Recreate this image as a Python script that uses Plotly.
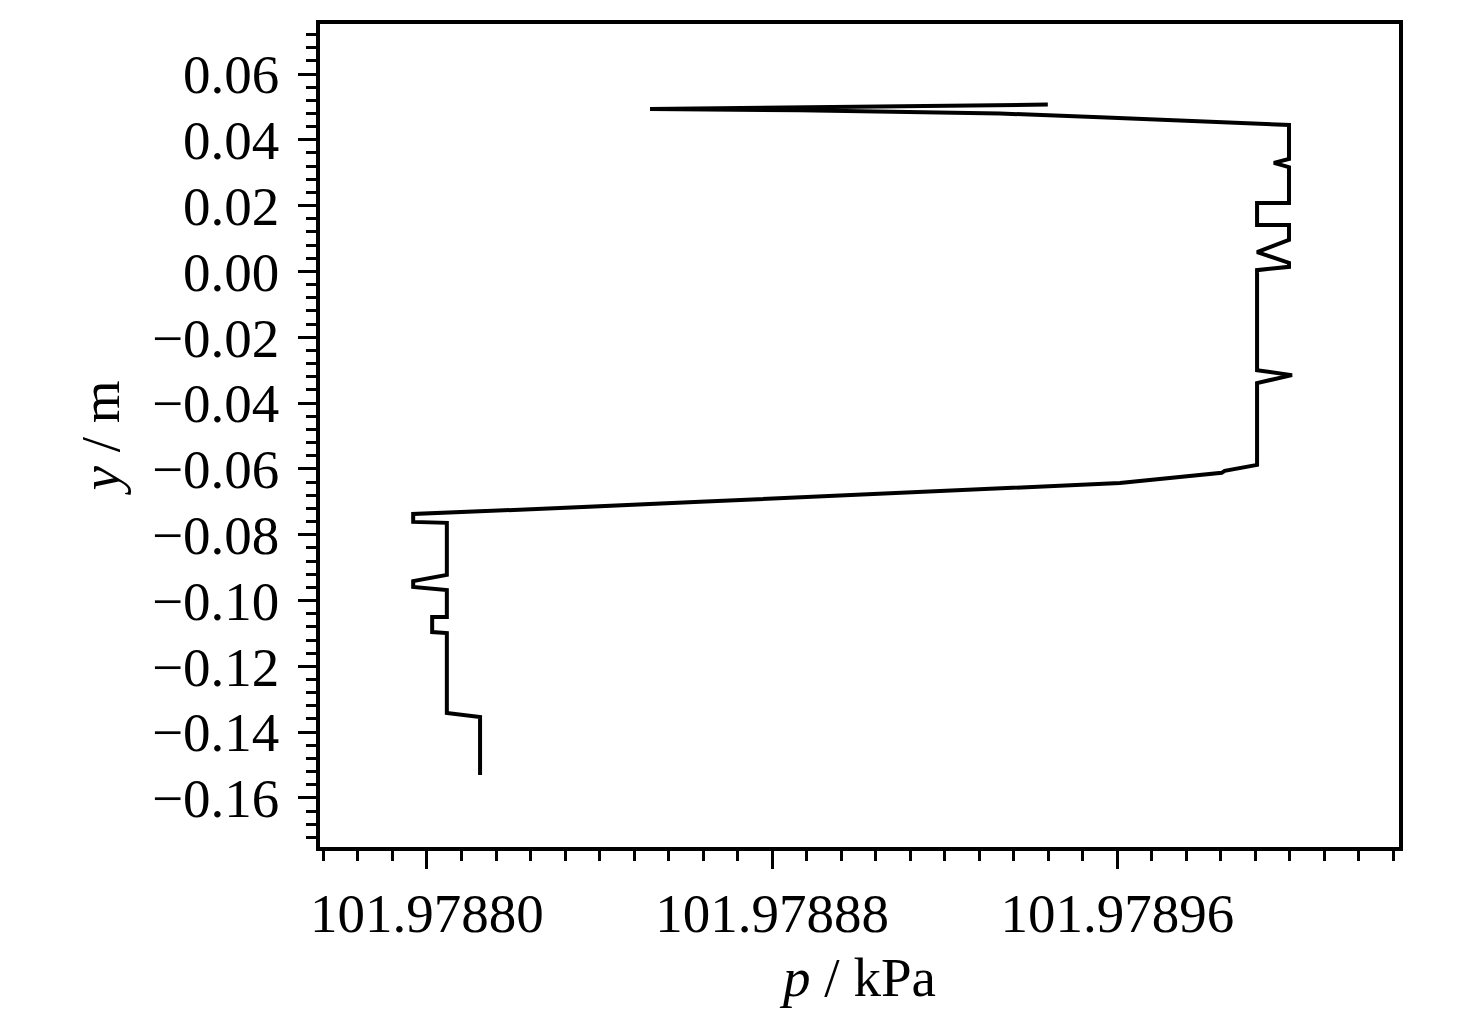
import numpy as np
import plotly.graph_objects as go

# pressure p (kPa) and height y (m), in path order
p_kpa = [101.9789439, 101.9788864, 101.9788517, 101.9788864, 101.9789096, 101.9789328,
         101.9789560, 101.9789791, 101.9789998, 101.9789998, 101.9789963, 101.9789998,
         101.9789998, 101.9789924, 101.9789924, 101.9789998, 101.9789998, 101.9789924,
         101.9789998, 101.9789998, 101.9789924, 101.9789924, 101.9790005, 101.9789924,
         101.9789924, 101.9789849, 101.9789842, 101.9789606, 101.9789282, 101.9788957,
         101.9788633, 101.9788308, 101.9787968, 101.9787968, 101.9788046, 101.9788046,
         101.9787968, 101.9787968, 101.9788046, 101.9788046, 101.9788012, 101.9788012,
         101.9788046, 101.9788046, 101.9788123, 101.9788123]
y_m = [0.0507, 0.0498, 0.0494, 0.0490, 0.0486, 0.0480,
       0.0469, 0.0457, 0.0445, 0.0342, 0.0330, 0.0317,
       0.0208, 0.0208, 0.0141, 0.0141, 0.0096, 0.0059,
       0.0026, 0.0014, 0.0004, -0.0300, -0.0315, -0.0339,
       -0.0588, -0.0606, -0.0612, -0.0643, -0.0661, -0.0679,
       -0.0700, -0.0719, -0.0737, -0.0761, -0.0764, -0.0922,
       -0.0941, -0.0959, -0.0968, -0.1050, -0.1050, -0.1096,
       -0.1099, -0.1342, -0.1354, -0.1530]

x_tick_vals = [101.97880, 101.97884, 101.97888, 101.97892, 101.97896, 101.97900]
x_tick_text = ["101.97880", "", "101.97888", "", "101.97896", ""]
y_tick_vals = [0.06, 0.04, 0.02, 0.00, -0.02, -0.04, -0.06, -0.08, -0.10, -0.12, -0.14, -0.16]
y_tick_text = ["0.06", "0.04", "0.02", "0.00", "\u22120.02", "\u22120.04", "\u22120.06",
               "\u22120.08", "\u22120.10", "\u22120.12", "\u22120.14", "\u22120.16"]

x_minor = [round(101.97880 + k * 8e-6, 7) for k in range(-3, 29)]
y_minor = [round(-0.172 + k * 0.004, 3) for k in range(0, 62)]

FONT = "Liberation Serif"

fig = go.Figure()
fig.add_trace(go.Scatter(x=p_kpa, y=y_m, mode="lines",
                         line=dict(color="black", width=4), showlegend=False))

fig.update_layout(
    width=1476, height=1015,
    margin=dict(l=312, r=85, t=16, b=176),
    paper_bgcolor="white", plot_bgcolor="white",
    font=dict(family=FONT, size=55, color="black"),
)
fig.update_xaxes(
    range=[101.9787752, 101.9790253],
    tickmode="array", tickvals=x_tick_vals, ticktext=x_tick_text,
    ticks="outside", ticklen=18, tickwidth=3, tickcolor="black",
    minor=dict(tickmode="array", tickvals=x_minor, ticks="outside", ticklen=10,
               tickwidth=3, tickcolor="black", showgrid=False),
    showline=True, linecolor="black", linewidth=3.5, mirror=True,
    showgrid=False, zeroline=False, automargin=False,
    ticklabelstandoff=-3,
    tickfont=dict(family=FONT, size=55),
    title=dict(text="<i>p</i> / kPa", font=dict(family=FONT, size=55), standoff=16),
)
fig.update_yaxes(
    range=[-0.1749, 0.0752],
    tickmode="array", tickvals=y_tick_vals, ticktext=y_tick_text,
    ticks="outside", ticklen=18, tickwidth=3, tickcolor="black",
    minor=dict(tickmode="array", tickvals=y_minor, ticks="outside", ticklen=10,
               tickwidth=3, tickcolor="black", showgrid=False),
    showline=True, linecolor="black", linewidth=3.5, mirror=True,
    showgrid=False, zeroline=False, automargin=False,
    ticklabelstandoff=8,
    tickfont=dict(family=FONT, size=55),
    title=dict(text="<i>y</i> / m", font=dict(family=FONT, size=55), standoff=16),
)

fig.write_html("out.html")
